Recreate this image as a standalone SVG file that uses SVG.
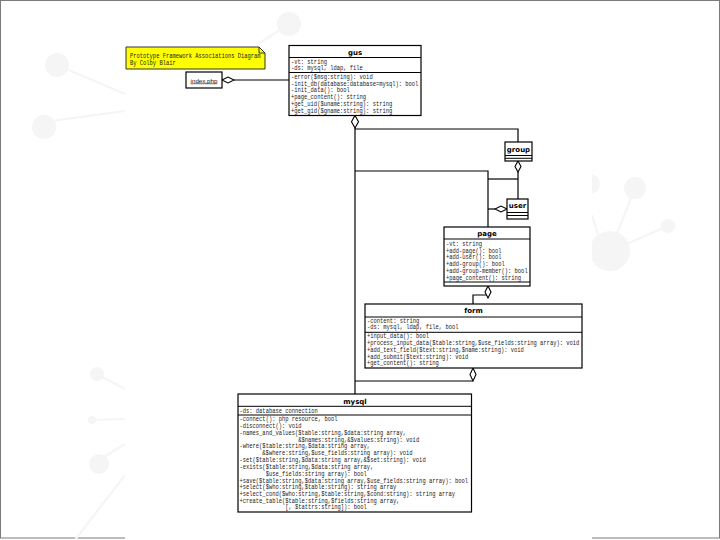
<svg xmlns="http://www.w3.org/2000/svg" width="720" height="540" viewBox="0 0 720 540">
<style>
.box{fill:#fff;stroke:#000;stroke-width:1.2}
.dv{stroke:#000;stroke-width:1}
.t{font-family:"DejaVu Sans",sans-serif;font-weight:bold;font-size:7px;text-anchor:middle;fill:#000}
.m{font-family:"Liberation Mono",monospace;font-size:6.6px;fill:#222}
.c{fill:none;stroke:#000;stroke-width:1.2}
.d{fill:#fff;stroke:#000;stroke-width:1.1}
.bg{fill:#f5f5f5}
.bgl{stroke:#f5f5f5;stroke-width:2.2;fill:none}
</style>
<rect width="720" height="540" fill="#fff"/>
<g id="background">
<rect x="0.5" y="0.5" width="719" height="537.5" fill="none" stroke="#7a7a7a" stroke-width="1"/>
<circle class="bg" cx="57" cy="65" r="12"/><line class="bgl" x1="57" y1="65" x2="125" y2="94"/>
<circle class="bg" cx="44" cy="127" r="12"/><line class="bgl" x1="44" y1="122" x2="125" y2="111"/>
<circle class="bg" cx="97" cy="374" r="7"/><line class="bgl" x1="97" y1="374" x2="125" y2="389"/>
<circle class="bg" cx="92" cy="420" r="4"/><line class="bgl" x1="92" y1="420" x2="125" y2="419"/>
<circle class="bg" cx="99" cy="464" r="10"/><line class="bgl" x1="99" y1="460" x2="125" y2="444"/>
<line class="bgl" x1="125" y1="475" x2="75" y2="540"/>
<circle class="bg" cx="289" cy="24" r="12"/><line class="bgl" x1="289" y1="24" x2="255" y2="46"/>
<circle class="bg" cx="610" cy="251" r="20"/>
<circle class="bg" cx="635" cy="188" r="11"/><line class="bgl" x1="610" y1="251" x2="635" y2="188"/>
<circle class="bg" cx="668" cy="226" r="7"/><line class="bgl" x1="610" y1="251" x2="668" y2="226"/>
<circle class="bg" cx="590" cy="184" r="10"/><line class="bgl" x1="592" y1="215" x2="598" y2="235"/>
<rect x="125" y="43" width="467" height="497" fill="#fff"/>
</g>
<g id="note">
<path d="M126 47 H259 L265 53 V69 H126 Z" fill="#ffff00" stroke="#333" stroke-width="1"/>
<path d="M259 47 V53 H265" fill="none" stroke="#333" stroke-width="1"/>
<text class="m" transform="translate(130,0) scale(.825 1)"><tspan x="0" y="58">Prototype Framework Associations Diagram</tspan><tspan x="0" y="65">By Colby Blair</tspan></text>
</g>
<g id="connectors">
<path class="c" d="M234 80 H289"/>
<path class="c" d="M355 128 V394"/>
<path class="c" d="M355 129 H518 V142"/>
<path class="c" d="M355 171 H488 V227"/>
<path class="c" d="M488 179 H518"/>
<path class="c" d="M518 172 V199"/>
<path class="c" d="M488 209 H495"/>
<path class="c" d="M473 304 V295 H488"/>
<path class="c" d="M355 381 H473"/>
<polygon class="d" points="222,80 228,77 234,80 228,83"/>
<polygon class="d" points="355,115.5 358.5,121.75 355,128 351.5,121.75"/>
<polygon class="d" points="518,161 521,166.5 518,172 515,166.5"/>
<polygon class="d" points="507,209 501,206 495,209 501,212"/>
<polygon class="d" points="488,286 491,292 488,298 485,292"/>
<polygon class="d" points="473,368 476,374.5 473,381 470,374.5"/>
</g>
<g id="index">
<rect class="box" x="186" y="72" width="36" height="16"/>
<text x="204" y="82.5" font-family="Liberation Sans, sans-serif" font-size="6.2" text-anchor="middle" text-decoration="underline" fill="#111">index.php</text>
</g>
<g id="gus">
<rect class="box" x="289" y="45.5" width="132" height="70"/>
<line class="dv" x1="289" y1="57.5" x2="421" y2="57.5"/>
<line class="dv" x1="289" y1="72.5" x2="421" y2="72.5"/>
<text class="t" x="355" y="54.5">gus</text>
<text class="m" transform="translate(291,0) scale(.825 1)"><tspan x="0" y="63.8">-vt: string</tspan><tspan x="0" y="70.3">-ds: mysql, ldap, file</tspan><tspan x="0" y="78.8">-error($msg:string): void</tspan><tspan x="0" y="85.6">-init_db(database:database=mysql): bool</tspan><tspan x="0" y="92.5">-init_data(): bool</tspan><tspan x="0" y="99.2">+page_content(): string</tspan><tspan x="0" y="106">+get_uid($uname:string): string</tspan><tspan x="0" y="112.8">+get_gid($gname:string): string</tspan></text>
</g>
<g id="group">
<rect class="box" x="505" y="142" width="27" height="19"/>
<line class="dv" x1="505" y1="155.5" x2="532" y2="155.5"/>
<line class="dv" x1="505" y1="158.3" x2="532" y2="158.3"/>
<text class="t" x="518.5" y="151.5">group</text>
</g>
<g id="user">
<rect class="box" x="507" y="199" width="21" height="20"/>
<line class="dv" x1="507" y1="212.5" x2="528" y2="212.5"/>
<line class="dv" x1="507" y1="215.5" x2="528" y2="215.5"/>
<text class="t" x="517.5" y="208.3">user</text>
</g>
<g id="page">
<rect class="box" x="444" y="227" width="86" height="59"/>
<line class="dv" x1="444" y1="239" x2="530" y2="239"/>
<line class="dv" x1="444" y1="282" x2="530" y2="282"/>
<text class="t" x="487" y="236.3">page</text>
<text class="m" transform="translate(446,0) scale(.825 1)"><tspan x="0" y="245.8">-vt: string</tspan><tspan x="0" y="252.6">+add-page(): bool</tspan><tspan x="0" y="259.5">+add-user(): bool</tspan><tspan x="0" y="266.4">+add-group(): bool</tspan><tspan x="0" y="273">+add-group-member(): bool</tspan><tspan x="0" y="279.8">+page_content(): string</tspan></text>
</g>
<g id="form">
<rect class="box" x="365" y="304" width="217" height="64"/>
<line class="dv" x1="365" y1="317" x2="582" y2="317"/>
<line class="dv" x1="365" y1="332.3" x2="582" y2="332.3"/>
<text class="t" x="473.5" y="313.3">form</text>
<text class="m" transform="translate(367,0) scale(.825 1)"><tspan x="0" y="322.6">-content: string</tspan><tspan x="0" y="329.4">-ds: mysql, ldap, file, bool</tspan><tspan x="0" y="337.8">+input_data(): bool</tspan><tspan x="0" y="344.9">+process_input_data($table:string,$use_fields:string array): void</tspan><tspan x="0" y="351.8">+add_text_field($text:string,$name:string): void</tspan><tspan x="0" y="358.6">+add_submit($text:string): void</tspan><tspan x="0" y="365.2">+get_content(): string</tspan></text>
</g>
<g id="mysql">
<rect class="box" x="238" y="394" width="233.5" height="118"/>
<line class="dv" x1="238" y1="406.3" x2="471.5" y2="406.3"/>
<line class="dv" x1="238" y1="415" x2="471.5" y2="415"/>
<text class="t" x="355" y="404">mysql</text>
<text class="m" transform="translate(239.5,0) scale(.825 1)"><tspan x="0" y="412.8">-ds: database connection</tspan><tspan x="0" y="421.3">-connect(): php resource, bool</tspan><tspan x="0" y="428.2">-disconnect(): void</tspan><tspan x="0" y="434.8">-names_and_values($table:string,$data:string array,</tspan><tspan x="71.3" y="441.7">&amp;$names:string,&amp;$values:string): void</tspan><tspan x="0" y="448.5">-where($table:string,$data:string array,</tspan><tspan x="27.7" y="455.1">&amp;$where:string,$use_fields:string array): void</tspan><tspan x="0" y="461.9">-set($table:string,$data:string array,&amp;$set:string): void</tspan><tspan x="0" y="468.9">-exists($table:string,$data:string array,</tspan><tspan x="31.7" y="475.7">$use_fields:string array): bool</tspan><tspan x="0" y="482.6">+save($table:string,$data:string array,$use_fields:string array): bool</tspan><tspan x="0" y="489.2">+select($who:string,$table:string): string array</tspan><tspan x="0" y="496">+select_cond($who:string,$table:string,$cond:string): string array</tspan><tspan x="0" y="502.9">+create_table($table:string,$fields:string array,</tspan><tspan x="55.4" y="509.5">[, $tattrs:string]): bool</tspan></text>
</g>
</svg>
